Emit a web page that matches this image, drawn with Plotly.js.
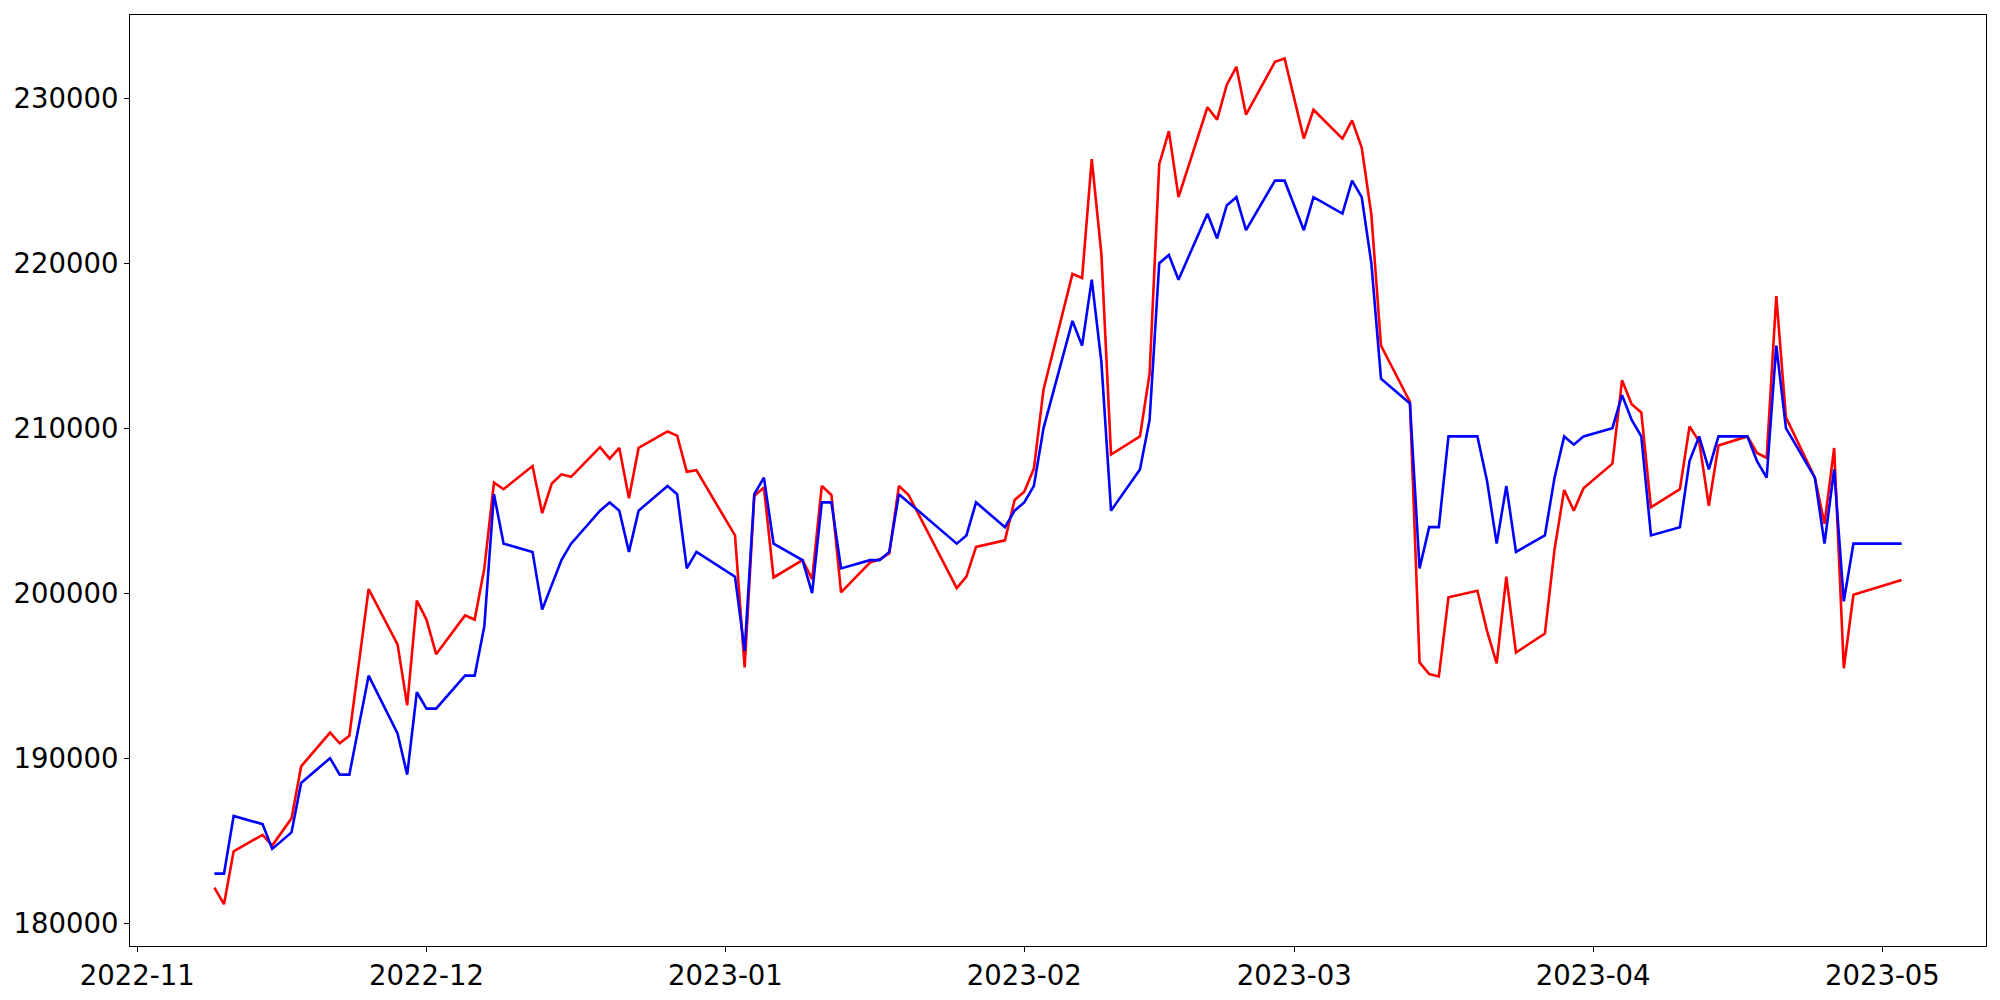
<!DOCTYPE html>
<html>
<head>
<meta charset="utf-8">
<script src="https://cdn.plot.ly/plotly-3.0.1.min.js"></script>
<style>html,body{margin:0;padding:0;background:#fff;}#chart{width:2000px;height:1000px;}</style>
</head>
<body>
<div id="chart"></div>
<script>
const dates = [
  "2022-11-09","2022-11-10","2022-11-11","2022-11-14","2022-11-15","2022-11-17","2022-11-18",
  "2022-11-21","2022-11-22","2022-11-23","2022-11-25","2022-11-28","2022-11-29","2022-11-30",
  "2022-12-01","2022-12-02","2022-12-05","2022-12-06","2022-12-07","2022-12-08","2022-12-09",
  "2022-12-12","2022-12-13","2022-12-14","2022-12-15","2022-12-16","2022-12-19","2022-12-20",
  "2022-12-21","2022-12-22","2022-12-23","2022-12-26","2022-12-27","2022-12-28","2022-12-29",
  "2023-01-02","2023-01-03","2023-01-04","2023-01-05","2023-01-06","2023-01-09","2023-01-10",
  "2023-01-11","2023-01-12","2023-01-13","2023-01-16","2023-01-17","2023-01-18","2023-01-19",
  "2023-01-20","2023-01-25","2023-01-26","2023-01-27","2023-01-30","2023-01-31","2023-02-01",
  "2023-02-02","2023-02-03","2023-02-06","2023-02-07","2023-02-08","2023-02-09","2023-02-10",
  "2023-02-13","2023-02-14","2023-02-15","2023-02-16","2023-02-17","2023-02-20","2023-02-21",
  "2023-02-22","2023-02-23","2023-02-24","2023-02-27","2023-02-28","2023-03-02","2023-03-03",
  "2023-03-06","2023-03-07","2023-03-08","2023-03-09","2023-03-10","2023-03-13","2023-03-14",
  "2023-03-15","2023-03-16","2023-03-17","2023-03-20","2023-03-21","2023-03-22","2023-03-23",
  "2023-03-24","2023-03-27","2023-03-28","2023-03-29","2023-03-30","2023-03-31","2023-04-03",
  "2023-04-04","2023-04-05","2023-04-06","2023-04-07","2023-04-10","2023-04-11","2023-04-12",
  "2023-04-13","2023-04-14","2023-04-17","2023-04-18","2023-04-19","2023-04-20","2023-04-21",
  "2023-04-24","2023-04-25","2023-04-26","2023-04-27","2023-04-28","2023-05-03"
];

const redSeries = [
  182150,181150,184350,185350,184700,186350,189500,
  191550,190900,191350,200250,196900,193200,199550,
  198400,196300,198650,198400,201500,206700,206300,
  207700,204850,206650,207200,207050,208850,208150,
  208800,205750,208800,209800,209550,207350,207450,
  203500,195500,205900,206400,200950,202000,200850,
  206500,205950,200050,201850,202050,202400,206500,
  205950,200300,201000,202800,203200,205650,206150,
  207550,212350,219350,219100,226300,220550,208400,
  209500,213300,226000,228000,224000,229450,228700,
  230800,231900,229000,232200,232400,227550,229300,
  227550,228650,227000,222950,215000,211600,195800,
  195100,194950,199750,200150,197700,195750,201000,
  196400,197550,202650,206250,205000,206350,207850,
  212900,211450,210950,205200,206300,210100,209200,
  205300,208950,209500,208500,208200,218000,210650,
  207000,204200,208800,195450,199900,200800
];

const blueSeries = [
  183000,183000,186500,186000,184500,185500,188500,
  190000,189000,189000,195000,191500,189000,194000,
  193000,193000,195000,195000,198000,206000,203000,
  202500,199000,200500,202000,203000,205000,205500,
  205000,202500,205000,206500,206000,201500,202500,
  201000,196500,206000,207000,203000,202000,200000,
  205500,205500,201500,202000,202000,202500,206000,
  205500,203000,203500,205500,204000,205000,205500,
  206500,210000,216500,215000,219000,214000,205000,
  207500,210500,220000,220500,219000,223000,221500,
  223500,224000,222000,225000,225000,222000,224000,
  223000,225000,224000,220000,213000,211500,201500,
  204000,204000,209500,209500,206800,203000,206500,
  202500,203500,207000,209500,209000,209500,210000,
  212000,210500,209500,203500,204000,208000,209500,
  207500,209500,209500,208000,207000,215000,210000,
  207000,203000,207500,199500,203000,203000
];

const yTicks = [180000,190000,200000,210000,220000,230000];
const xTicks = ["2022-11-01","2022-12-01","2023-01-01","2023-02-01","2023-03-01","2023-04-01","2023-05-01"];
const xTickLabels = ["2022-11","2022-12","2023-01","2023-02","2023-03","2023-04","2023-05"];

const traces = [
  {x: dates, y: redSeries, type: "scatter", mode: "lines", line: {color: "#ff0000", width: 2.6}, hoverinfo: "x+y"},
  {x: dates, y: blueSeries, type: "scatter", mode: "lines", line: {color: "#0000ff", width: 2.6}, hoverinfo: "x+y"}
];

const font = {family: "DejaVu Sans, sans-serif", size: 27.5, color: "#000"};

const layout = {
  width: 2000, height: 1000,
  paper_bgcolor: "#fff", plot_bgcolor: "#fff",
  showlegend: false,
  font: font,
  margin: {l: 130, r: 14, t: 15, b: 54, pad: 0},
  xaxis: {
    type: "date",
    range: ["2022-10-31 06:00", "2023-05-11 18:00"],
    tickvals: xTicks, ticktext: xTickLabels,
    showgrid: false, zeroline: false,
    showline: true, mirror: true, linecolor: "#000", linewidth: 1.2,
    ticks: "outside", ticklen: 4.9, tickwidth: 1.2, tickcolor: "#000",
    tickfont: font
  },
  yaxis: {
    range: [178615, 235040],
    tickvals: yTicks, ticktext: yTicks.map(String),
    showgrid: false, zeroline: false,
    showline: true, mirror: true, linecolor: "#000", linewidth: 1.2,
    ticks: "outside", ticklen: 4.9, tickwidth: 1.2, tickcolor: "#000",
    tickfont: font
  }
};

Plotly.newPlot("chart", traces, layout, {displayModeBar: false, staticPlot: true});
</script>
</body>
</html>
